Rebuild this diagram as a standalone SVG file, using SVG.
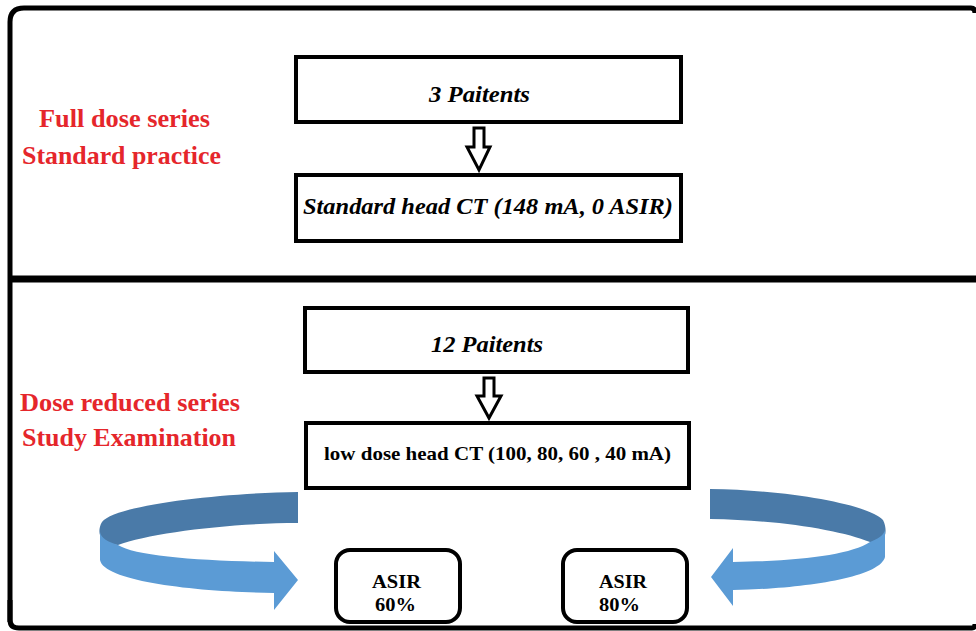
<svg xmlns="http://www.w3.org/2000/svg" width="976" height="631" viewBox="0 0 976 631">
<style>
.frame{fill:none;stroke:#000;stroke-width:5}
.box{fill:#fff;stroke:#000;stroke-width:4}
.rbox{fill:#fff;stroke:#000;stroke-width:4}
.red{font-family:"Liberation Serif",serif;font-weight:bold;fill:#e5262b;font-size:25px}
.it{font-family:"Liberation Serif",serif;font-weight:bold;font-style:italic;fill:#000;font-size:23px}
.bd{font-family:"Liberation Serif",serif;font-weight:bold;fill:#000;font-size:19px}
.harrow{fill:#fff;stroke:#000;stroke-width:3;stroke-linejoin:miter}
.dark{fill:#4a7aa8}
.light{fill:#5b9bd5}
</style>
<rect width="976" height="631" fill="#fff"/>
<g id="frame">
<path class="frame" d="M10,622 V22 Q10,8 24,8 H971 Q975,8 975,13"/>
<line x1="10" y1="279" x2="976" y2="279" stroke="#000" stroke-width="7"/>
<path class="frame" d="M10,600 V620 Q10,628 19,628 H972 Q975,628 975,624"/>
</g>
<g id="labels">
<text class="red" x="39" y="127" textLength="171" lengthAdjust="spacingAndGlyphs">Full dose series</text>
<text class="red" x="22" y="164" textLength="199" lengthAdjust="spacingAndGlyphs">Standard practice</text>
<text class="red" x="20" y="411" textLength="220" lengthAdjust="spacingAndGlyphs">Dose reduced series</text>
<text class="red" x="22" y="446" textLength="214" lengthAdjust="spacingAndGlyphs">Study Examination</text>
</g>
<g id="node-3-patients">
<rect class="box" x="296" y="57" width="385" height="65"/>
<text class="it" x="429" y="102" textLength="101" lengthAdjust="spacingAndGlyphs">3 Paitents</text>
</g>
<g id="node-standard-ct">
<rect class="box" x="296" y="175" width="385" height="66"/>
<text class="it" x="303" y="214" textLength="370" lengthAdjust="spacingAndGlyphs">Standard head CT (148 mA, 0 ASIR)</text>
</g>
<g id="node-12-patients">
<rect class="box" x="305" y="308" width="383" height="64"/>
<text class="it" x="431" y="352" textLength="112" lengthAdjust="spacingAndGlyphs">12 Paitents</text>
</g>
<g id="node-low-dose-ct">
<rect class="box" x="306" y="423" width="383" height="65"/>
<text class="bd" x="324" y="460" textLength="347" lengthAdjust="spacingAndGlyphs">low dose head CT (100, 80, 60 , 40 mA)</text>
</g>
<g id="node-asir-60">
<rect class="rbox" x="336" y="550" width="124" height="72" rx="14"/>
<text class="bd" x="372" y="588" textLength="49" lengthAdjust="spacingAndGlyphs">ASIR</text>
<text class="bd" x="375" y="611" textLength="41" lengthAdjust="spacingAndGlyphs">60%</text>
</g>
<g id="node-asir-80">
<rect class="rbox" x="563" y="550" width="124" height="72" rx="14"/>
<text class="bd" x="599" y="588" textLength="48" lengthAdjust="spacingAndGlyphs">ASIR</text>
<text class="bd" x="599" y="611" textLength="41" lengthAdjust="spacingAndGlyphs">80%</text>
</g>
<g id="connectors">
<path class="harrow" d="M474,128 H484 V147 H490 L479,170 L467,147 H474 Z"/>
<path class="harrow" d="M484,378 H494 V396 H501 L489,418 L477,396 H484 Z"/>
<path class="dark" d="M298,492 C220,493 115,505 102,522 C99,527 99,532 100,535 C104,542 112,545 118,545 C150,533 230,523 298,523 Z"/>
<path class="light" d="M100,532 L100,560 C104,582 200,592 274,593 L274,610 L298,580 L274,551 L274,562 C200,561 135,556 118,545 C108,542 101,538 100,532 Z"/>
<path class="dark" d="M710,489 C790,490 870,505 883,520 C886,526 886,532 885,535 C880,540 875,542 870,542 C840,530 780,520 710,519 Z"/>
<path class="light" d="M885,530 L885,557 C880,578 800,589 733,590 L733,606 L711,577 L733,548 L733,562 C800,561 850,555 870,542 C878,539 884,535 885,530 Z"/>
</g>
</svg>
